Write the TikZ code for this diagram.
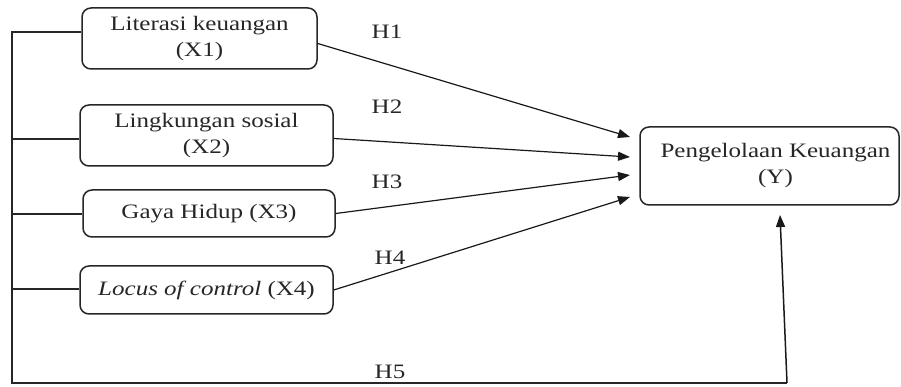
\documentclass[tikz,border=0pt]{standalone}
\usepackage{fontspec}
\setmainfont{Liberation Serif}[FakeStretch=1.22]
\usetikzlibrary{arrows.meta}
\begin{document}
\begin{tikzpicture}[x=1pt,y=1pt,
  var/.style={draw=black!85, line width=1.5pt, rounded corners=9pt, align=center,
    inner sep=0pt, text=black!85, font=\fontsize{20.5}{26}\selectfont},
  lbl/.style={text=black!85, font=\fontsize{20.5}{26}\selectfont, inner sep=0pt},
  arr/.style={draw=black!90, line width=1.2pt, -{Triangle[length=12pt,width=9pt]}},
  ln/.style={draw=black!85, line width=1.6pt}]
\useasboundingbox (0,0) rectangle (901,387);
\node[var, minimum width=235pt, minimum height=61pt] (x1) at (199.5,348.5) {Literasi keuangan\\(X1)};
\node[var, minimum width=253pt, minimum height=61pt] (x2) at (206.5,251.5) {Lingkungan sosial\\(X2)};
\node[var, minimum width=252pt, minimum height=47pt] (x3) at (209,173.5) {Gaya Hidup (X3)};
\node[var, minimum width=253pt, minimum height=48pt] (x4) at (206.5,97) {\textit{Locus of control} (X4)};
\node[var, minimum width=259pt, minimum height=78pt] (y) at (769.5,221) {\hspace*{12pt}Pengelolaan Keuangan\\\hspace*{12pt}(Y)};
\coordinate (e1) at (630,250);
\coordinate (e2) at (630,230);
\coordinate (e3) at (630,212);
\coordinate (e4) at (630,190);
\coordinate (tl) at (12,355);
\coordinate (l2) at (12,248);
\coordinate (l3) at (12,173);
\coordinate (l4) at (12,98);
\coordinate (bl) at (12,4);
\coordinate (br) at (787,4);
\coordinate (e5) at (780,172);
\draw[arr] ([yshift=-5pt]x1.east) -- (e1);
\draw[arr] ([yshift=-3pt]x2.east) -- (e2);
\draw[arr] (x3.east) -- (e3);
\draw[arr] (x4.east) -- (e4);
\draw[ln] (x1.west |- tl) -- (tl) -- (bl) -- (br);
\draw[arr, line width=1.5pt] (br) -- (e5);
\draw[ln] (l2) -- (x2.west |- l2);
\draw[ln] (l3) -- (x3.west |- l3);
\draw[ln] (l4) -- (x4.west |- l4);
\node[lbl] (h1) at (387,355) {H1};
\node[lbl] (h2) at (387,280) {H2};
\node[lbl] (h3) at (387,205) {H3};
\node[lbl] (h4) at (390,129) {H4};
\node[lbl] (h5) at (390,15) {H5};
\end{tikzpicture}
\end{document}
